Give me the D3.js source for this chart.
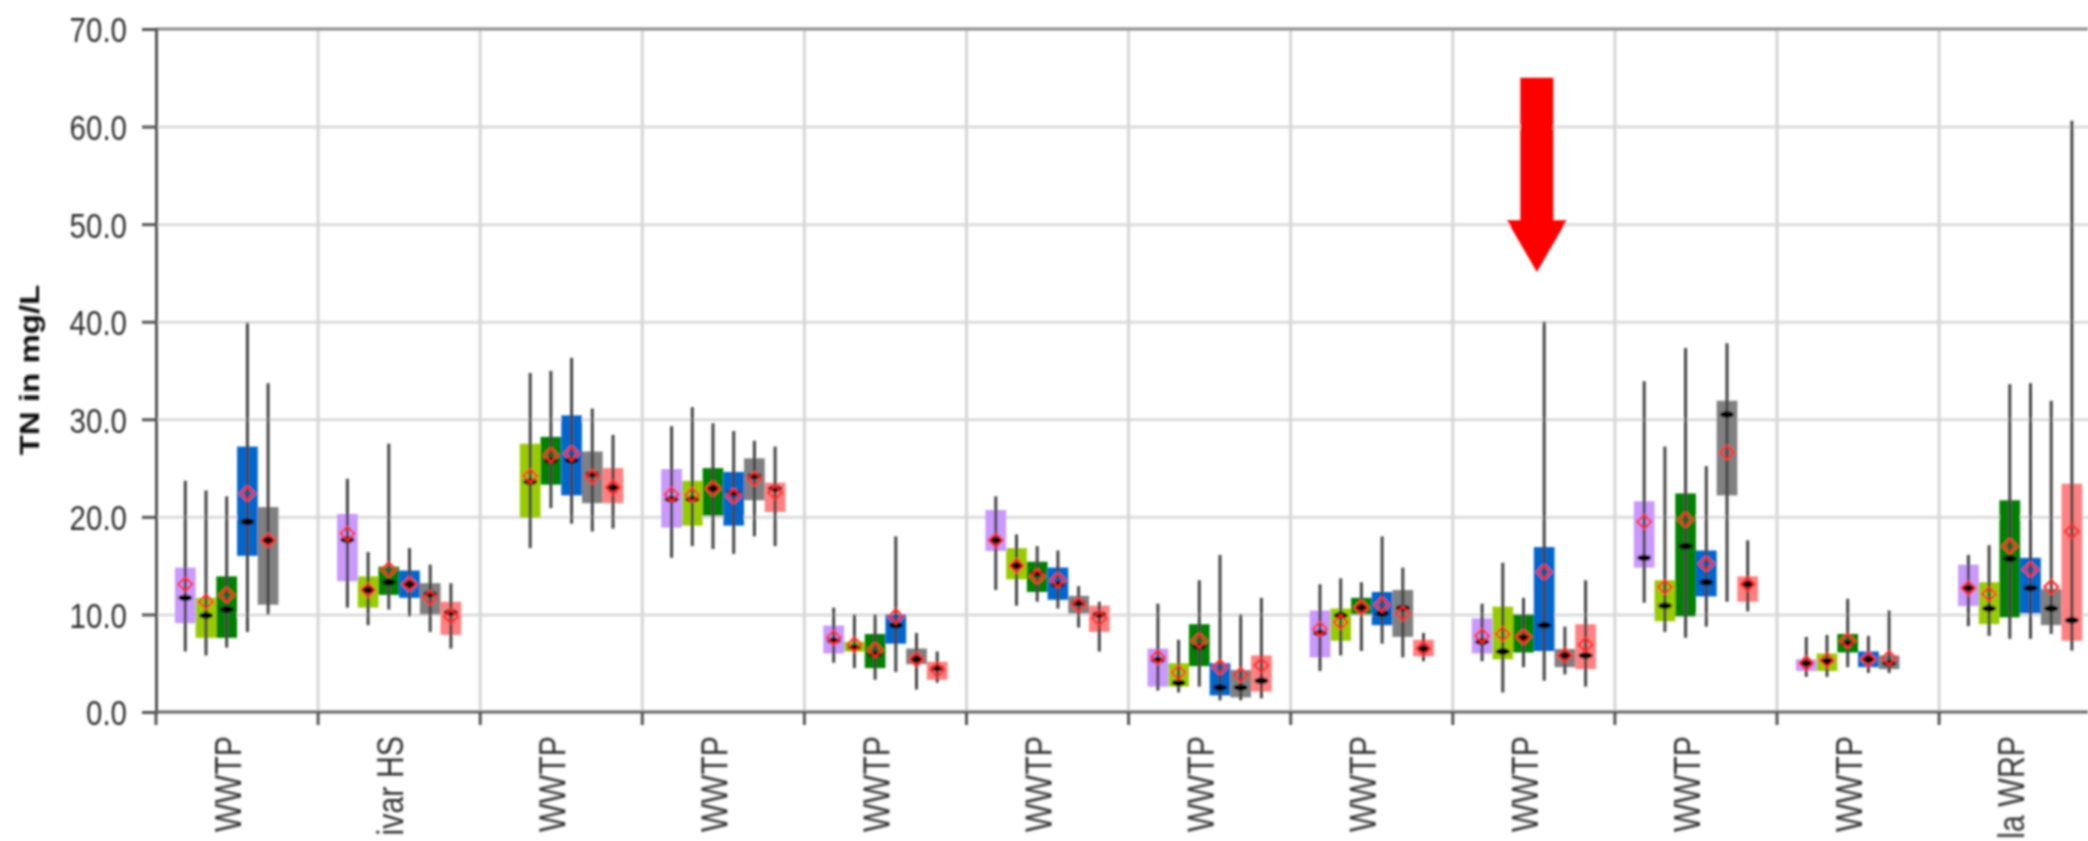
<!DOCTYPE html>
<html>
<head>
<meta charset="utf-8">
<script src="https://cdn.jsdelivr.net/npm/d3@7"></script>
<style>
  html, body { margin: 0; padding: 0; background: #fff; }
  svg { display: block; }
</style>
</head>
<body>
<svg id="chart" width="2088" height="841"></svg>
<script>
// Plant names (only the tail of each name is visible below the axis)
const categories = ["WWTP", "ivar HS", "WWTP", "WWTP", "WWTP", "WWTP",
                    "WWTP", "WWTP", "WWTP", "WWTP", "WWTP", "la WRP"];

const seriesKeys = ["s1", "s2", "s3", "s4", "s5", "s6"];
const seriesColors = ["#c999fb", "#99cc00", "#008000", "#0066cc", "#808080", "#ff8080"];

const yTicks = [0, 10, 20, 30, 40, 50, 60, 70];

// Each entry: [min, q1, median, mean, q3, max] in mg/L, null where no samples
const s1 = [
  [6.2, 9.1, 11.7, 13.1, 14.8, 23.7],
  [10.7, 13.4, 17.65, 18.3, 20.3, 23.9],
  null,
  [15.8, 18.9, 21.8, 22.3, 24.9, 29.3],
  [5.05, 6.0, 7.3, 7.6, 8.86, 10.7],
  [12.5, 16.5, 17.6, 17.6, 20.7, 22.1],
  [2.2, 2.6, 5.3, 5.6, 6.5, 11.1],
  [4.2, 5.6, 8.1, 8.5, 10.4, 13.1],
  [5.2, 6.0, 7.2, 7.8, 9.6, 11.1],
  [11.2, 14.8, 15.8, 19.5, 21.6, 33.9],
  [3.6, 4.2, 5.0, 5.0, 5.4, 7.7],
  [8.8, 10.85, 12.7, 12.7, 15.1, 16.1]
];
const s2 = [
  [5.8, 7.6, 9.9, 11.3, 11.7, 22.7],
  [8.9, 10.7, 12.5, 12.5, 13.9, 16.4],
  [16.8, 19.9, 23.6, 24.2, 27.5, 34.75],
  [17.0, 19.1, 21.8, 22.25, 23.7, 31.25],
  [4.5, 6.2, 6.6, 6.9, 7.2, 10.0],
  [10.9, 13.6, 15.0, 15.0, 16.8, 18.2],
  [2.0, 2.6, 3.0, 4.05, 5.0, 7.4],
  [5.8, 7.3, 9.9, 9.2, 10.6, 13.7],
  [2.0, 5.4, 6.2, 8.0, 10.8, 15.3],
  [8.2, 9.3, 10.9, 12.8, 13.5, 27.2],
  [3.6, 4.2, 5.2, 5.3, 6.0, 7.9],
  [7.8, 9.0, 10.6, 12.1, 13.3, 17.1]
];
const s3 = [
  [6.6, 7.6, 10.5, 12.0, 13.9, 22.1],
  [10.5, 12.0, 13.3, 14.6, 14.9, 27.5],
  [20.9, 23.3, 25.75, 26.3, 28.2, 34.96],
  [16.7, 20.1, 22.9, 22.9, 25.0, 29.6],
  [3.3, 4.5, 5.9, 6.35, 8.0, 10.0],
  [11.3, 12.3, 14.25, 13.9, 15.4, 17.0],
  [2.6, 4.7, 6.7, 7.3, 9.0, 13.5],
  [6.25, 10.0, 10.7, 10.7, 11.7, 13.3],
  [4.6, 6.1, 7.6, 7.7, 10.0, 11.7],
  [7.6, 9.8, 17.0, 19.7, 22.4, 37.3],
  [4.6, 6.1, 7.0, 7.3, 8.0, 11.6],
  [7.5, 9.7, 15.7, 17.0, 21.7, 33.6]
];
const s4 = [
  [8.2, 16.0, 19.5, 22.4, 27.2, 39.9],
  [9.8, 11.7, 13.1, 13.1, 14.5, 16.8],
  [19.3, 22.2, 25.8, 26.5, 30.4, 36.3],
  [16.2, 19.1, 22.5, 22.15, 24.6, 28.8],
  [4.1, 7.0, 8.9, 9.8, 10.0, 18.0],
  [10.6, 11.5, 13.05, 13.5, 14.8, 16.55],
  [1.2, 1.7, 2.5, 4.6, 5.0, 16.1],
  [7.0, 8.9, 10.1, 11.0, 12.3, 18.0],
  [3.2, 6.25, 8.9, 14.35, 16.9, 40.0],
  [8.75, 11.85, 13.3, 15.2, 16.55, 25.2],
  [4.0, 4.6, 5.4, 5.4, 6.2, 7.8],
  [7.5, 10.1, 12.7, 14.6, 15.8, 33.7]
];
const s5 = [
  [10.0, 11.0, 17.6, 17.6, 21.0, 33.7],
  [8.2, 10.0, 12.1, 11.7, 13.2, 15.1],
  [18.5, 21.4, 24.4, 24.1, 26.7, 31.1],
  [18.0, 21.7, 24.2, 23.9, 26.0, 27.8],
  [2.3, 4.9, 5.4, 5.4, 6.5, 8.1],
  [8.65, 10.1, 11.2, 11.0, 11.9, 12.9],
  [1.2, 1.5, 2.5, 3.8, 4.3, 10.0],
  [5.6, 7.7, 10.65, 10.1, 12.5, 14.8],
  [3.85, 4.6, 5.8, 5.8, 6.45, 8.75],
  [11.3, 22.2, 30.5, 26.6, 31.9, 37.8],
  [4.0, 4.4, 5.0, 5.5, 5.8, 10.4],
  [8.0, 8.9, 10.6, 12.8, 12.6, 31.9]
];
const s6 = [
  null,
  [6.5, 7.9, 10.2, 9.8, 11.3, 13.2],
  [18.8, 21.4, 23.0, 23.0, 25.0, 28.4],
  [17.0, 20.5, 22.9, 22.5, 23.5, 27.2],
  [3.0, 3.3, 4.5, 4.3, 5.15, 6.2],
  [6.2, 8.2, 10.0, 9.6, 10.9, 11.3],
  [1.4, 2.1, 3.2, 4.8, 5.8, 11.7],
  [5.2, 5.7, 6.5, 6.5, 7.4, 8.1],
  [2.6, 4.4, 5.8, 6.9, 9.0, 13.5],
  [10.3, 11.3, 13.1, 13.1, 13.9, 17.6],
  null,
  [6.3, 7.3, 9.4, 18.5, 23.4, 60.6]
];
const seriesStats = [s1, s2, s3, s4, s5, s6];

// Highlight arrow: which plant it points at and its vertical span (mg/L)
const arrowCategory = 8;
const arrowTop = 65, arrowHeadBase = 50.4, arrowTip = 45.1;

// ---- layout ----
const svg = d3.select("#chart");
const plotLeft = 156, plotTop = 29, plotBottom = 712;
const catWidth = 162.1;
const plotRight = plotLeft + catWidth * categories.length;
const narrow = 0.82;   // horizontal squeeze that gives a condensed sans face
const fontFamily = "'Liberation Sans', Arial, sans-serif";

const x = d3.scaleBand().domain(d3.range(categories.length)).range([plotLeft, plotRight]).paddingInner(0).paddingOuter(0);
const xs = d3.scaleBand().domain(seriesKeys).range([0, x.bandwidth()]).paddingInner(0).paddingOuter(0.915);
const y = d3.scaleLinear().domain([0, 70]).range([plotBottom, plotTop]);

const defs = svg.append("defs");
defs.append("filter").attr("id", "soft").attr("x", "-5%").attr("y", "-5%").attr("width", "110%").attr("height", "110%")
  .append("feGaussianBlur").attr("stdDeviation", 1.0);

const g = svg.append("g").attr("filter", "url(#soft)");

// horizontal grid
g.append("g").attr("class", "ygrid")
  .attr("transform", `translate(${plotLeft},0)`)
  .call(d3.axisLeft(y).tickValues(yTicks.slice(1, -1)).tickSize(-(plotRight - plotLeft)).tickFormat(""))
  .call(s => s.select(".domain").remove())
  .call(s => s.selectAll("line").attr("stroke", "#dcdcdc").attr("stroke-width", 3));

// vertical grid at category boundaries
g.append("g").selectAll("line")
  .data(d3.range(1, categories.length))
  .join("line")
  .attr("x1", i => x(i)).attr("x2", i => x(i))
  .attr("y1", plotTop).attr("y2", plotBottom)
  .attr("stroke", "#d6d6d6").attr("stroke-width", 3);

// top frame line
g.append("line").attr("x1", plotLeft).attr("x2", 2088).attr("y1", y(70)).attr("y2", y(70))
  .attr("stroke", "#8a8a8a").attr("stroke-width", 3);

// boxes
seriesStats.forEach((rows, si) => {
  const key = seriesKeys[si];
  const grp = g.append("g").attr("class", "series-" + key);
  const items = rows.map((r, ci) => r ? { ci, r } : null).filter(Boolean);
  const cx = d => x(d.ci) + xs(key) + xs.bandwidth() / 2;

  grp.selectAll("rect.box").data(items).join("rect")
    .attr("class", "box")
    .attr("x", d => x(d.ci) + xs(key))
    .attr("width", xs.bandwidth())
    .attr("y", d => y(d.r[4]))
    .attr("height", d => y(d.r[1]) - y(d.r[4]))
    .attr("fill", seriesColors[si]);

  grp.selectAll("line.whisker").data(items).join("line")
    .attr("class", "whisker")
    .attr("x1", cx).attr("x2", cx)
    .attr("y1", d => y(d.r[0])).attr("y2", d => y(d.r[5]))
    .attr("stroke", "#444").attr("stroke-width", 3);

  grp.selectAll("ellipse.median").data(items).join("ellipse")
    .attr("class", "median")
    .attr("cx", cx).attr("cy", d => y(d.r[2]))
    .attr("rx", 7).attr("ry", 3.2)
    .attr("fill", "#000");

  grp.selectAll("path.mean").data(items).join("path")
    .attr("class", "mean")
    .attr("d", d => {
      const px = cx(d), py = y(d.r[3]), h = 7;
      return `M${px},${py - h}L${px + h},${py}L${px},${py + h}L${px - h},${py}Z`;
    })
    .attr("fill", "none").attr("stroke", "#ff2a2a").attr("stroke-width", 2.2);
});

// y axis
const yAxis = g.append("g").attr("transform", `translate(${plotLeft},0)`)
  .call(d3.axisLeft(y).tickValues(yTicks).tickSize(14).tickPadding(15).tickFormat(d3.format(".1f")));
yAxis.select(".domain").attr("stroke", "#555").attr("stroke-width", 3);
yAxis.selectAll(".tick line").attr("stroke", "#555").attr("stroke-width", 3);
yAxis.selectAll(".tick text")
  .attr("x", 0)
  .attr("dy", "0.36em")
  .attr("transform", `translate(-29,0) scale(${narrow},1)`)
  .attr("text-anchor", "end")
  .attr("fill", "#333")
  .style("font-family", fontFamily)
  .style("font-size", "36px");

// x axis baseline and ticks at category boundaries
g.append("line").attr("x1", plotLeft).attr("x2", 2088).attr("y1", plotBottom).attr("y2", plotBottom)
  .attr("stroke", "#666").attr("stroke-width", 3);
g.append("g").selectAll("line")
  .data(d3.range(0, categories.length))
  .join("line")
  .attr("x1", i => x(i)).attr("x2", i => x(i))
  .attr("y1", plotBottom).attr("y2", plotBottom + 13)
  .attr("stroke", "#555").attr("stroke-width", 3);

// category labels, rotated
g.append("g").selectAll("text")
  .data(categories)
  .join("text")
  .attr("transform", (d, i) => `translate(${x(i) + x.bandwidth() / 2 + 4},736) rotate(-90) scale(${narrow},1)`)
  .attr("text-anchor", "end")
  .attr("fill", "#333")
  .style("font-family", fontFamily)
  .style("font-size", "37px")
  .text(d => d);

// y axis title (slightly elongated along its length)
g.append("text")
  .attr("transform", `translate(39,370) rotate(-90) scale(1.18,1)`)
  .attr("text-anchor", "middle")
  .attr("fill", "#111")
  .style("font-family", fontFamily)
  .style("font-weight", "bold")
  .style("font-size", "28px")
  .text("TN in mg/L");

// red arrow pointing at the highlighted plant
const ax = x(arrowCategory) + x.bandwidth() / 2 + 3;
const shaftHalf = 16.5, headHalf = 30;
g.append("path")
  .attr("d", `M${ax - shaftHalf},${y(arrowTop)}L${ax + shaftHalf},${y(arrowTop)}L${ax + shaftHalf},${y(arrowHeadBase)}` +
             `L${ax + headHalf},${y(arrowHeadBase)}L${ax},${y(arrowTip)}L${ax - headHalf},${y(arrowHeadBase)}` +
             `L${ax - shaftHalf},${y(arrowHeadBase)}Z`)
  .attr("fill", "#ff0000");
</script>
</body>
</html>
